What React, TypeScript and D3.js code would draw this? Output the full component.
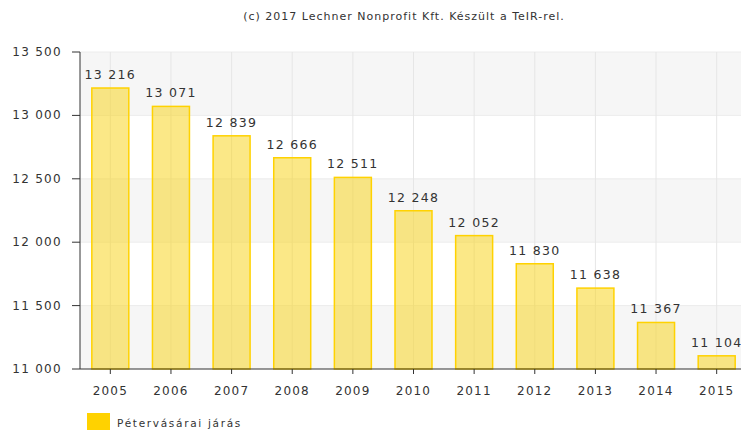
import React from 'react';
import * as d3 from 'd3';

const years = ['2005', '2006', '2007', '2008', '2009', '2010', '2011', '2012', '2013', '2014', '2015'];
const population = [13216, 13071, 12839, 12666, 12511, 12248, 12052, 11830, 11638, 11367, 11104];
const yTicks = [11000, 11500, 12000, 12500, 13000, 13500];
const seriesName = 'Pétervásárai járás';
const credit = '(c) 2017 Lechner Nonprofit Kft. Készült a TeIR-rel.';

const W = 741;
const H = 430;
const font = 'Verdana, "DejaVu Sans", sans-serif';

const fmt = (v: number) => d3.format(',')(v).replace(/,/g, ' ');

const App = () => {
  const left = 80;
  const right = 747;
  const top = 52;
  const bottom = 369;

  const x = d3.scaleBand().domain(years).range([left, right]).paddingInner(0.39).paddingOuter(0.195);
  const y = d3.scaleLinear().domain([11000, 13500]).range([bottom, top]);
  const center = (d: string) => (x(d) ?? 0) + x.bandwidth() / 2;

  return (
    <svg width={W} height={H} style={{ position: 'absolute', left: 0, top: 0 }} fontFamily={font}>
      <rect width={W} height={H} fill="#fff" />
      <text x={404} y={20} textAnchor="middle" fontSize={11} fill="#333" letterSpacing={1}>
        {credit}
      </text>

      {/* alternating bands */}
      {yTicks.slice(0, -1).map((t, i) =>
        i % 2 === 0 ? (
          <rect key={t} x={left} y={y(t + 500)} width={right - left} height={y(t) - y(t + 500)} fill="#f6f6f6" />
        ) : null
      )}
      {yTicks.slice(1).map((t) => (
        <line key={t} x1={left} x2={right} y1={y(t)} y2={y(t)} stroke="#ececec" />
      ))}
      {years.map((d) => (
        <line key={d} x1={center(d)} x2={center(d)} y1={top} y2={bottom} stroke="#e6e6e6" />
      ))}

      {/* bars */}
      {years.map((d, i) => (
        <rect
          key={d}
          x={x(d)}
          y={y(population[i])}
          width={x.bandwidth()}
          height={bottom - y(population[i])}
          fill="#f8d524"
          fillOpacity={0.55}
          stroke="#ffd200"
          strokeWidth={1.5}
        />
      ))}
      {years.map((d, i) => (
        <text key={d} x={center(d)} y={y(population[i]) - 9} textAnchor="middle" fontSize={12.5} fill="#333" letterSpacing={1.3}>
          {fmt(population[i])}
        </text>
      ))}

      {/* axes */}
      <line x1={left} x2={left} y1={top} y2={bottom} stroke="#333" />
      <line x1={left} x2={right} y1={bottom} y2={bottom} stroke="#333" />
      {yTicks.map((t) => (
        <g key={t}>
          <line x1={72} x2={left} y1={y(t)} y2={y(t)} stroke="#333" />
          <text x={62} y={y(t) + 4} textAnchor="end" fontSize={12} fill="#333" letterSpacing={1.3}>
            {fmt(t)}
          </text>
        </g>
      ))}
      {years.map((d) => (
        <g key={d}>
          <line x1={center(d)} x2={center(d)} y1={bottom} y2={bottom + 5} stroke="#333" />
          <text x={center(d)} y={395} textAnchor="middle" fontSize={12} fill="#333" letterSpacing={1.2}>
            {d}
          </text>
        </g>
      ))}

      {/* legend */}
      <rect x={87} y={413} width={23} height={20} fill="#ffd200" />
      <text x={117} y={427} fontSize={10.5} fill="#333" letterSpacing={1.7}>
        {seriesName}
      </text>
    </svg>
  );
};

export default App;
